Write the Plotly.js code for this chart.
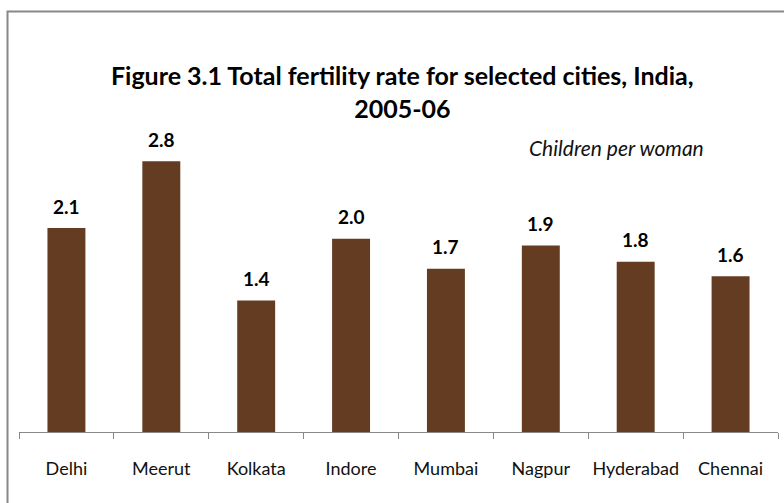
<!DOCTYPE html>
<html>
<head>
<meta charset="utf-8">
<script src="https://cdn.plot.ly/plotly-3.0.1.min.js"></script>
<style>html,body{margin:0;padding:0;background:#fff;}#chart{width:784px;height:503px;}</style>
</head>
<body>
<div id="chart"></div>
<script>
const cities = ["Delhi", "Meerut", "Kolkata", "Indore", "Mumbai", "Nagpur", "Hyderabad", "Chennai"];
const tfr = [2.11, 2.8, 1.36, 2.0, 1.69, 1.93, 1.76, 1.61];
const titleText = "Figure 3.1 Total fertility rate for selected cities, India,<br>2005-06";
const unitText = "Children per woman";

const FONT = "Lato, 'Open Sans', sans-serif";

const trace = {
  type: "bar",
  x: cities,
  y: tfr,
  width: 0.4,
  marker: { color: "#633C22", line: { width: 0 } },
  hoverinfo: "skip"
};

const valueLabels = cities.map((c, i) => ({
  x: c, y: tfr[i], xref: "x", yref: "y",
  text: "<b>" + tfr[i].toFixed(1) + "</b>",
  showarrow: false, yanchor: "middle", yshift: 22,
  font: { family: FONT, size: 19, color: "#000" }
}));

const margin = { l: 19, r: 6, t: 142, b: 71 };
const W = 784, H = 503;
const plotW = W - margin.l - margin.r;
const plotH = H - margin.t - margin.b;
function px2x(px) { return (px - margin.l) / plotW; }
function py2y(py) { return (H - margin.b - py) / plotH; }

const layout = {
  width: W, height: H,
  margin: margin,
  paper_bgcolor: "#fff", plot_bgcolor: "#fff",
  showlegend: false,
  bargap: 0.6,
  title: {
    text: "<b>" + titleText + "</b>",
    font: { family: FONT, size: 25, color: "#000" },
    x: 0.505, xanchor: "center", xref: "paper",
    y: 1 - 85 / H, yanchor: "middle", yref: "container"
  },
  xaxis: {
    type: "category",
    showline: true, linecolor: "#888", linewidth: 1,
    ticks: "outside", tickson: "boundaries", ticklen: 6, tickcolor: "#888", tickwidth: 1,
    ticklabelstandoff: 20, tickangle: 0,
    tickfont: { family: FONT, size: 18, color: "#111" },
    showgrid: false, zeroline: false,
    range: [-0.5, 7.5]
  },
  yaxis: {
    range: [0, 3], visible: false, showgrid: false, zeroline: false
  },
  annotations: valueLabels.concat([{
    x: px2x(706), y: py2y(147), xref: "paper", yref: "paper",
    text: "<i>" + unitText + "</i>", showarrow: false,
    xanchor: "right", yanchor: "middle",
    font: { family: FONT, size: 21, color: "#111" }
  }]),
  shapes: [{
    type: "path", xref: "paper", yref: "paper",
    path: "M " + px2x(800) + " " + py2y(11.5) + " L " + px2x(7.5) + " " + py2y(11.5) + " L " + px2x(7.5) + " " + py2y(520),
    line: { color: "#888", width: 2 }
  }]
};

Plotly.newPlot("chart", [trace], layout, { displayModeBar: false, staticPlot: true });
</script>
</body>
</html>
